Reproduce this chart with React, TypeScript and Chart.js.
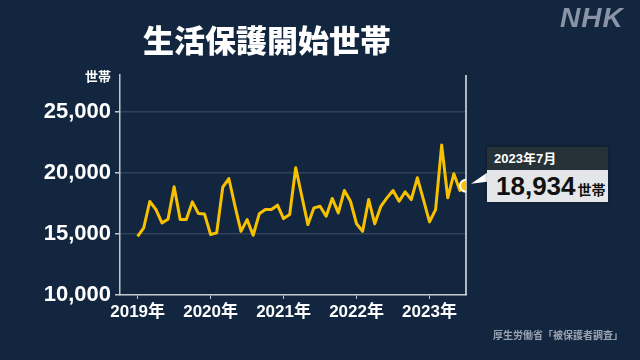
import React, { useEffect, useRef } from "react";
import { Chart, registerables } from "chart.js";

Chart.register(...registerables);

// Monthly new welfare-receiving households, Jan 2019 – Jul 2023
const startYear = 2019;
const values = [
  14800, 15500, 17650, 17000, 15900, 16200, 18850, 16170, 16170, 17620, 16660, 16620,
  14950, 15080, 18820, 19530, 17300, 15210, 16170, 14890, 16640, 16990, 17000, 17350,
  16250, 16580, 20410, 18080, 15760, 17130, 17260, 16440, 17900, 16720, 18550, 17670,
  15830, 15210, 17810, 15820, 17260, 17950, 18550, 17670, 18440, 17810, 19590, 17800,
  15980, 16990, 22270, 17950, 19920, 18550, 18934,
];
const yTicks = [10000, 15000, 20000, 25000];
const xTicks = [0, 12, 24, 36, 48];
const title = "生活保護開始世帯";
const unit = "世帯";
const lastLabel = "2023年7月";
const source = "厚生労働省「被保護者調査」";

const BG = "#12263f";
const LINE = "#f7c100";
const AXIS = "#c3c7cd";
const NUMFONT = "'Liberation Sans', Arial, 'Noto Sans CJK JP', sans-serif";
const JPFONT = "'Noto Sans CJK JP', 'Liberation Sans', sans-serif";

export default function App() {
  const ref = useRef<HTMLCanvasElement | null>(null);

  useEffect(() => {
    if (!ref.current) return;
    const lastIdx = values.length - 1;
    const overlay = {
      id: "overlay",
      beforeDatasetsDraw(chart: any) {
        const { ctx, scales } = chart;
        const x = scales.x.getPixelForValue(lastIdx);
        ctx.save();
        ctx.strokeStyle = "#e8eaed";
        ctx.lineWidth = 1.5;
        ctx.beginPath();
        ctx.moveTo(x, chart.chartArea.top);
        ctx.lineTo(x, chart.chartArea.bottom);
        ctx.stroke();
        ctx.restore();
      },
      afterDatasetsDraw(chart: any) {
        const { ctx, scales } = chart;
        const x = scales.x.getPixelForValue(lastIdx);
        const y = scales.y.getPixelForValue(values[lastIdx]);
        ctx.save();
        ctx.fillStyle = "#ffffff";
        ctx.beginPath();
        ctx.moveTo(x + 5, y - 2);
        ctx.lineTo(487, y - 13);
        ctx.lineTo(487, y - 4);
        ctx.closePath();
        ctx.fill();
        ctx.restore();
      },
    };

    const chart = new Chart(ref.current, {
      type: "line",
      data: {
        datasets: [
          {
            data: values.map((v, i) => ({ x: i, y: v })),
            borderColor: LINE,
            borderWidth: 3,
            borderJoinStyle: "round",
            tension: 0,
            pointRadius: (c: any) => (c.dataIndex === lastIdx ? 6 : 0),
            pointBackgroundColor: LINE,
            pointBorderColor: "#ffffff",
            pointBorderWidth: 2,
          },
        ],
      },
      options: {
        responsive: false,
        animation: false,
        layout: { padding: { left: 0, right: 174, top: 75, bottom: 33 } },
        plugins: { legend: { display: false }, tooltip: { enabled: false } },
        scales: {
          x: {
            type: "linear",
            min: -2.9,
            max: lastIdx,
            afterBuildTicks: (s: any) => {
              s.ticks = xTicks.map((v) => ({ value: v }));
            },
            afterFit: (s: any) => {
              s.height = 32;
            },
            border: { color: AXIS, width: 1.5 },
            grid: { drawOnChartArea: false, drawTicks: true, tickLength: 4, tickColor: AXIS },
            ticks: {
              color: "#ffffff",
              font: { family: NUMFONT, size: 17, weight: "bold" },
              padding: 3,
              maxRotation: 0,
              callback: (v: any) => `${startYear + Number(v) / 12}年`,
            },
          },
          y: {
            min: 10000,
            max: 28000,
            afterBuildTicks: (s: any) => {
              s.ticks = yTicks.map((v) => ({ value: v }));
            },
            afterFit: (s: any) => {
              s.width = 120;
            },
            border: { color: AXIS, width: 1.5 },
            grid: {
              color: "rgba(255,255,255,0.13)",
              lineWidth: 1.5,
              drawTicks: true,
              tickLength: 5,
              tickColor: AXIS,
            },
            ticks: {
              color: "#ffffff",
              font: { family: NUMFONT, size: 22, weight: "bold" },
              padding: 4,
              callback: (v: any) => Number(v).toLocaleString("en-US"),
            },
          },
        },
      },
      plugins: [overlay],
    } as any);
    return () => chart.destroy();
  }, []);

  const last = values[values.length - 1];

  return (
    <div
      style={{
        position: "fixed",
        left: 0,
        top: 0,
        width: 640,
        height: 360,
        background: BG,
        overflow: "hidden",
      }}
    >
      <canvas ref={ref} width={640} height={360} style={{ position: "absolute", left: 0, top: 0 }} />
      <div
        style={{
          position: "absolute",
          left: 143,
          top: 22,
          fontFamily: JPFONT,
          fontWeight: 900,
          fontSize: 31,
          lineHeight: "34px",
          color: "#ffffff",
          whiteSpace: "nowrap",
        }}
      >
        {title}
      </div>
      <div
        style={{
          position: "absolute",
          left: 560,
          top: 2,
          fontFamily: NUMFONT,
          fontWeight: "bold",
          fontStyle: "italic",
          fontSize: 28,
          lineHeight: "32px",
          color: "#8a94a6",
          letterSpacing: 1,
        }}
      >
        NHK
      </div>
      <div
        style={{
          position: "absolute",
          left: 85,
          top: 68,
          fontFamily: JPFONT,
          fontWeight: 700,
          fontSize: 13,
          lineHeight: "16px",
          color: "#ffffff",
        }}
      >
        {unit}
      </div>
      <div
        style={{
          position: "absolute",
          left: 487,
          top: 147,
          width: 121,
          height: 55,
          boxShadow: "0 0 3px rgba(0,0,0,0.4)",
        }}
      >
        <div
          style={{
            height: 23,
            background: "#263238",
            color: "#ffffff",
            fontFamily: NUMFONT,
            fontWeight: "bold",
            fontSize: 13,
            lineHeight: "23px",
            paddingLeft: 7,
          }}
        >
          {lastLabel}
        </div>
        <div
          style={{
            height: 32,
            background: "#e4e6e9",
            color: "#111111",
            paddingLeft: 9,
            whiteSpace: "nowrap",
            lineHeight: "32px",
          }}
        >
          <span style={{ fontFamily: NUMFONT, fontSize: 26, fontWeight: "bold" }}>
            {last.toLocaleString("en-US")}
          </span>
          <span style={{ fontFamily: JPFONT, fontSize: 14, fontWeight: 700, marginLeft: 2 }}>{unit}</span>
        </div>
      </div>
      <div
        style={{
          position: "absolute",
          left: 493,
          top: 328,
          fontFamily: JPFONT,
          fontWeight: 700,
          fontSize: 10,
          lineHeight: "14px",
          color: "#9aa3b0",
          whiteSpace: "nowrap",
        }}
      >
        {source}
      </div>
    </div>
  );
}
